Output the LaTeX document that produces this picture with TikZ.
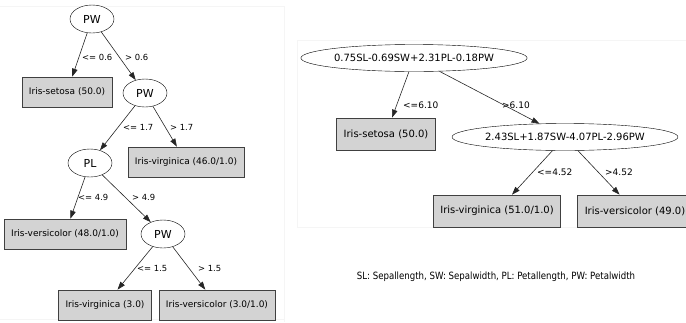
\documentclass[tikz,border=0pt]{standalone}
\usepackage{fontspec}
\setmainfont{DejaVu Sans}
\newfontfamily\keyfont[FakeStretch=0.86]{DejaVu Sans}
\usetikzlibrary{arrows.meta}
\usetikzlibrary{shapes.geometric}
\definecolor{leafgray}{HTML}{D3D3D3}

\begin{document}
\begin{tikzpicture}[x=1pt,y=-1pt,
  split/.style={draw,ellipse,fill=white,inner sep=0pt,minimum width=44pt,minimum height=28pt,font=\fontsize{11}{12}\selectfont},
  lsplit/.style={draw,ellipse,fill=white,inner xsep=0pt,inner ysep=2pt,minimum height=27pt,font=\fontsize{10}{11}\selectfont},
  leaf/.style={draw=black!75,line width=0.7pt,fill=leafgray,inner xsep=7pt,minimum height=30pt,font=\fontsize{9}{10}\selectfont},
  lleaf/.style={leaf,minimum height=32pt,font=\fontsize{10}{11}\selectfont},
  edge/.style={draw=black!85,line width=0.6pt,-{Triangle[length=8pt,width=5.5pt]}},
  cond/.style={anchor=west,inner sep=0pt,font=\fontsize{8.4}{9}\selectfont},
  lcond/.style={cond,font=\fontsize{9}{10}\selectfont},
  frame/.style={draw=black!4,line width=0.6pt}]
  \useasboundingbox (0,0) rectangle (686,322);
  \draw[frame] (0,6) -- (284,6) -- (284,322);
  \draw[frame] (0,319) -- (284,319);
  \draw[frame] (686,40) -- (297,40) -- (297,227) -- (686,227);

  %left tree
  \node[split] (pwa) at (92,19) {PW};
  \node[leaf] (seta) at (67,92) {Iris-setosa (50.0)};
  \node[split] (pwb) at (145,93) {PW};
  \node[leaf] (vira) at (186,162) {Iris-virginica (46.0/1.0)};
  \node[split] (pla) at (90,163) {PL};
  \node[leaf] (vera) at (65,234) {Iris-versicolor (48.0/1.0)};
  \node[split] (pwc) at (163,234) {PW};
  \node[leaf] (virb) at (105,305) {Iris-virginica (3.0)};
  \node[leaf] (verb) at (217,305) {Iris-versicolor (3.0/1.0)};
  \draw[edge] (pwa) -- (seta);
  \draw[edge] (pwa) -- (pwb);
  \draw[edge] (pwb) -- (pla);
  \draw[edge] (pwb) -- (vira);
  \draw[edge] (pla) -- (vera);
  \draw[edge] (pla) -- (pwc);
  \draw[edge] (pwc) -- (virb);
  \draw[edge] (pwc) -- (verb);
  \node[cond] (ca) at (82,57) {<= 0.6};
  \node[cond] (cb) at (125,57) {> 0.6};
  \node[cond] (cc) at (123,127) {<= 1.7};
  \node[cond] (cd) at (170,127) {> 1.7};
  \node[cond] (ce) at (78,197) {<= 4.9};
  \node[cond] (cf) at (132,197) {> 4.9};
  \node[cond] (cg) at (137,268) {<= 1.5};
  \node[cond] (ch) at (198,268) {> 1.5};

  %right tree
  \node[lsplit] (lina) at (414,58) {0.75SL-0.69SW+2.31PL-0.18PW};
  \node[lleaf] (setb) at (386,134) {Iris-setosa (50.0)};
  \node[lsplit] (linb) at (565,137) {2.43SL+1.87SW-4.07PL-2.96PW};
  \node[lleaf] (virc) at (497,211) {Iris-virginica (51.0/1.0)};
  \node[lleaf] (verc) at (635,211) {Iris-versicolor (49.0)};
  \draw[edge] (lina) -- (setb);
  \draw[edge] (lina) -- (linb);
  \draw[edge] (linb) -- (virc);
  \draw[edge] (linb) -- (verc);
  \node[lcond] (ci) at (403,105) {<=6.10};
  \node[lcond] (cj) at (502,105) {>6.10};
  \node[lcond] (ck) at (537,172) {<=4.52};
  \node[lcond] (cl) at (605,172) {>4.52};

  %key
  \node[font=\keyfont\fontsize{10}{12}\selectfont] (key) at (496,277) {SL: Sepallength, SW: Sepalwidth, PL: Petallength, PW: Petalwidth};
\end{tikzpicture}
\end{document}
